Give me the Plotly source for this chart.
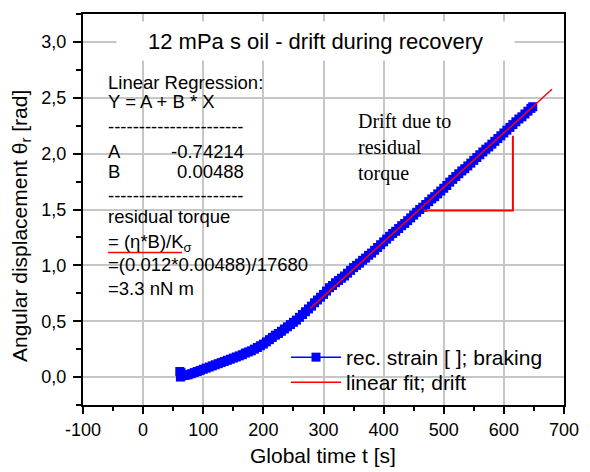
import plotly.graph_objects as go

# ---------------- data ----------------
time_s = [61, 62, 63, 64, 65, 70, 75, 80, 85, 90, 95, 100, 105, 110, 115, 120, 125, 130, 135, 140,
          145, 150, 155, 160, 165, 170, 175, 180, 185, 190, 195, 200, 205, 210, 215, 220, 225, 230,
          235, 240, 245, 250, 255, 260, 265, 270, 275, 280, 285, 290, 295, 300, 305, 310, 315, 320,
          325, 330, 335, 340, 345, 350, 355, 360, 365, 370, 375, 380, 385, 390, 395, 400, 405, 410,
          415, 420, 425, 430, 435, 440, 445, 450, 455, 460, 465, 470, 475, 480, 485, 490, 495, 500,
          505, 510, 515, 520, 525, 530, 535, 540, 545, 550, 555, 560, 565, 570, 575, 580, 585, 590,
          595, 600, 605, 610, 615, 620, 625, 630, 635, 640, 645, 648]
strain_rad = [0.05, 0.00, 0.04, 0.01, 0.02, 0.015, 0.02, 0.03, 0.04, 0.05, 0.06, 0.07, 0.08, 0.09,
              0.10, 0.11, 0.12, 0.13, 0.14, 0.15, 0.16, 0.17, 0.18, 0.19, 0.20, 0.215, 0.225, 0.235,
              0.25, 0.265, 0.28, 0.295, 0.315, 0.335, 0.355, 0.375, 0.39, 0.41, 0.43, 0.45, 0.47,
              0.49, 0.51, 0.535, 0.56, 0.585, 0.61, 0.635, 0.665, 0.69, 0.715, 0.74, 0.77, 0.80,
              0.82, 0.845, 0.865, 0.885, 0.905, 0.93, 0.955, 0.98, 1.0, 1.02, 1.045, 1.065, 1.09,
              1.11, 1.135, 1.16, 1.185, 1.21, 1.235, 1.26, 1.285, 1.305, 1.33, 1.355, 1.375, 1.40,
              1.425, 1.45, 1.475, 1.50, 1.52, 1.545, 1.57, 1.595, 1.615, 1.64, 1.665, 1.69, 1.715,
              1.745, 1.77, 1.795, 1.82, 1.845, 1.865, 1.89, 1.915, 1.94, 1.965, 1.99, 2.015, 2.04,
              2.06, 2.085, 2.11, 2.135, 2.16, 2.185, 2.21, 2.235, 2.26, 2.285, 2.31, 2.33, 2.355,
              2.38, 2.405, 2.42]
fit_t = [278, 680]
fit_y = [0.615, 2.576]
drift_triangle_t = [467, 615, 615]
drift_triangle_y = [1.49, 1.49, 2.16]

x_ticks = [-100, 0, 100, 200, 300, 400, 500, 600, 700]
x_tick_labels = ["-100", "0", "100", "200", "300", "400", "500", "600", "700"]
y_ticks = [0.0, 0.5, 1.0, 1.5, 2.0, 2.5, 3.0]
y_tick_labels = ["0,0", "0,5", "1,0", "1,5", "2,0", "2,5", "3,0"]

# ---------------- layout geometry ----------------
W, H = 590, 472
L, R, T, B = 83, 26, 14, 67
PW, PH = W - L - R, H - T - B


def px(xp):
    return (xp - L) / PW


def py(yp):
    return (H - B - yp) / PH


FONT = "Liberation Sans, Arial, sans-serif"
SERIF = "Liberation Serif, Times New Roman, serif"

fig = go.Figure()
fig.add_trace(go.Scatter(
    x=time_s, y=strain_rad, mode="lines+markers", name="rec. strain [ ]; braking",
    line=dict(color="#0000FF", width=1.5),
    marker=dict(symbol="square", size=9, color="#0000FF", line=dict(width=0)),
    legend="legend",
))
fig.add_trace(go.Scatter(
    x=fit_t, y=fit_y, mode="lines", name="linear fit; drift",
    line=dict(color="#FF0000", width=1.5), legend="legend2",
))
fig.add_trace(go.Scatter(
    x=drift_triangle_t, y=drift_triangle_y, mode="lines", showlegend=False,
    line=dict(color="#FF0000", width=2), hoverinfo="skip",
))

grid = "#c6c6c6"
fig.update_xaxes(
    range=[-100, 700], tickvals=x_ticks, ticktext=x_tick_labels, ticks="outside", ticklen=7,
    tickwidth=2, tickcolor="black", showline=True, linecolor="black", linewidth=2, mirror=True,
    showgrid=True, gridcolor=grid, gridwidth=1.5, zeroline=False,
    tickfont=dict(family=FONT, size=18, color="black"),
    minor=dict(tickvals=[-50, 50, 150, 250, 350, 450, 550, 650], ticks="outside",
               ticklen=4, tickwidth=2, tickcolor="black", showgrid=False),
)
fig.update_yaxes(
    range=[-0.25, 3.25], tickvals=y_ticks, ticktext=y_tick_labels, ticks="outside", ticklen=8,
    tickwidth=2, tickcolor="black", showline=True, linecolor="black", linewidth=2,
    mirror=True, showgrid=True, gridcolor=grid, gridwidth=1.5, zeroline=False,
    tickfont=dict(family=FONT, size=18, color="black"), ticklabelstandoff=3,
    minor=dict(tickvals=[-0.25, 0.25, 0.75, 1.25, 1.75, 2.25, 2.75, 3.25], ticks="outside",
               ticklen=5, tickwidth=2, tickcolor="black", showgrid=False),
)

ann = []
shapes = []
# axis titles
ann.append(dict(text="Global time t [s]", xref="paper", yref="paper", x=px(323), y=py(456),
                showarrow=False, font=dict(family=FONT, size=21, color="black"),
                xanchor="center", yanchor="middle"))
ann.append(dict(text="Angular displacement θ<sub>r</sub> [rad]", xref="paper", yref="paper",
                x=px(21), y=py(226), textangle=-90, showarrow=False,
                font=dict(family=FONT, size=21, color="black"),
                xanchor="center", yanchor="middle"))
# title box
ann.append(dict(text="12 mPa s oil - drift during recovery", xref="paper", yref="paper",
                x=px(315), y=py(41), showarrow=False, bgcolor="white", width=397, height=38,
                font=dict(family=FONT, size=22, color="black"),
                xanchor="center", yanchor="middle", borderpad=0))

# regression text block: (text, left px, right px of white backing, centre y px, anchor)
reg_lines = [
    ("Linear Regression:", 106, 263, 82, "left"),
    ("Y = A + B * X", 106, 217, 101, "left"),
    ("----------------------", 106, 255, 126, "left"),
    ("A", 106, 119, 151, "left"),
    ("-0.74214", 171, 246, 151, "right"),
    ("B", 106, 119, 172, "left"),
    ("0.00488", 177, 246, 172, "right"),
    ("----------------------", 106, 255, 195, "left"),
    ("residual torque", 106, 231, 217, "left"),
    ("= (η*B)/K<sub>σ</sub>", 106, 192, 243, "left"),
    ("=(0.012*0.00488)/17680", 106, 309, 264, "left"),
    ("=3.3 nN m", 106, 194, 288, "left"),
]
for txt, x0, x1, yp, anchor in reg_lines:
    shapes.append(dict(type="rect", xref="paper", yref="paper", layer="between",
                       x0=px(x0), x1=px(x1), y0=py(yp + 7), y1=py(yp - 8),
                       fillcolor="white", line=dict(width=0)))
    ann.append(dict(text=txt, xref="paper", yref="paper",
                    x=px(x0 if anchor == "left" else x1), y=py(yp),
                    showarrow=False, font=dict(family=FONT, size=18.5, color="black"),
                    xanchor=anchor, yanchor="middle"))

ann.append(dict(text="Drift due to<br>residual<br>torque", xref="paper", yref="paper",
                x=px(356), y=py(147), showarrow=False, align="left",
                font=dict(family=SERIF, size=20, color="black"),
                xanchor="left", yanchor="middle"))

shapes.append(dict(type="line", xref="paper", yref="paper", x0=px(108), x1=px(182),
                   y0=py(252.5), y1=py(252.5), line=dict(color="#FF0000", width=1.5)))

leg_common = dict(xanchor="left", yanchor="top", bgcolor="rgba(0,0,0,0)",
                  font=dict(family=FONT, size=21, color="black"), itemwidth=50)
fig.update_layout(
    width=W, height=H, margin=dict(l=L, r=R, t=T, b=B),
    paper_bgcolor="white", plot_bgcolor="white", separators=",.",
    font=dict(family=FONT, color="black"),
    annotations=ann, shapes=shapes,
    legend=dict(x=px(286), y=py(337), **leg_common),
    legend2=dict(x=px(286), y=py(362), **leg_common),
)

fig.write_html("out.html")
